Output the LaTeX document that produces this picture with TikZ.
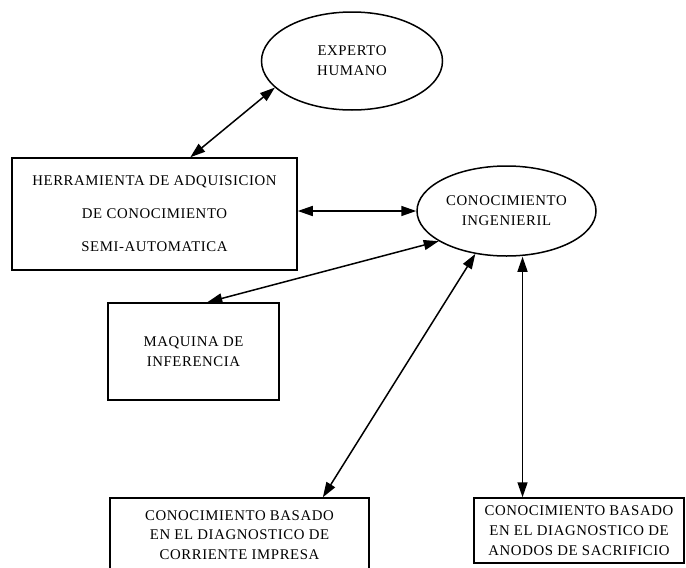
\documentclass[tikz,border=0pt]{standalone}
\usepackage{fontspec}
\setmainfont{Liberation Serif}[LetterSpace=4]
\usetikzlibrary{arrows.meta,shapes.geometric,calc}
\begin{document}
\begin{tikzpicture}[x=1pt,y=-1pt,
  lbl/.style={font=\fontsize{14.8}{19.8}\selectfont, align=center},
  ell/.style={draw, ellipse, line width=1.5pt, inner sep=0pt, lbl},
  boxn/.style={draw, rectangle, line width=1.5pt, inner sep=0pt, lbl},
  link/.style={line width=1.5pt, {Triangle[length=15pt,width=10pt]}-{Triangle[length=15pt,width=10pt]}}
]
\useasboundingbox (0,0) rectangle (686,568);
\clip (0,0) rectangle (686,568);
\node[ell, minimum width=181pt, minimum height=98pt] (eh) at (352,61) {EXPERTO\\HUMANO};
\node[ell, minimum width=179pt, minimum height=90pt] (ci) at (506.5,211) {CONOCIMIENTO\\INGENIERIL};
\node[boxn, minimum width=285pt, minimum height=112pt, font=\fontsize{14.8}{33}\selectfont] (hb) at (154.5,214) {HERRAMIENTA DE ADQUISICION\\DE CONOCIMIENTO\\SEMI-AUTOMATICA};
\node[boxn, minimum width=171pt, minimum height=97pt] (mq) at (193.5,351.5) {MAQUINA DE\\INFERENCIA};
\node[boxn, minimum width=259pt, minimum height=74pt] (cb) at (239.5,535) {CONOCIMIENTO BASADO\\EN EL DIAGNOSTICO DE\\CORRIENTE IMPRESA};
\node[boxn, minimum width=210pt, minimum height=65pt] (an) at (579,530.5) {CONOCIMIENTO BASADO\\EN EL DIAGNOSTICO DE\\ANODOS DE SACRIFICIO};
\draw[link] (eh.199) -- ($(hb.north west)!0.625!(hb.north east)$);
\draw[link] (hb.east |- ci.west) -- (ci.west);
\draw[link] (ci.204) -- ($(mq.north west)!0.58!(mq.north east)$);
\draw[link] (ci.234) -- ($(cb.north west)!0.82!(cb.north east)$);
\coordinate (ap) at ($(an.north west)!0.233!(an.north east)$);
\draw[link] (ci.south -| ap) -- (ap);
\end{tikzpicture}
\end{document}
